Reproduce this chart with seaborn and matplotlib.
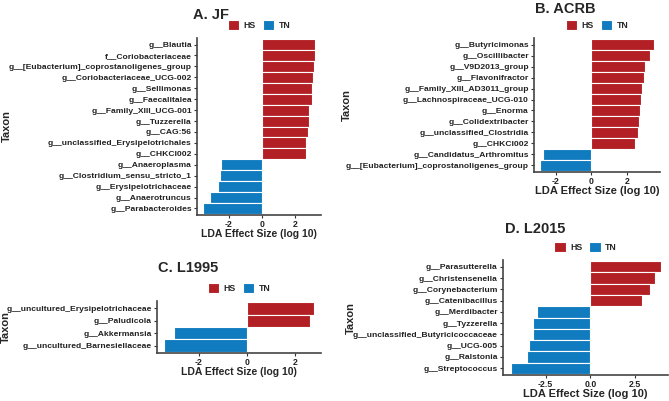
import matplotlib
matplotlib.use("Agg")
import matplotlib.pyplot as plt
import pandas as pd
import seaborn as sns

# LDA effect sizes (log 10)
jf_taxa = ["g__Blautia", "f__Coriobacteriaceae", "g__[Eubacterium]_coprostanoligenes_group",
           "g__Coriobacteriaceae_UCG-002", "g__Sellimonas", "g__Faecalitalea",
           "g__Family_XIII_UCG-001", "g__Tuzzerella", "g__CAG:56",
           "g__unclassified_Erysipelotrichales", "g__CHKCI002", "g__Anaeroplasma",
           "g__Clostridium_sensu_stricto_1", "g__Erysipelotrichaceae", "g__Anaerotruncus",
           "g__Parabacteroides"]
jf_lda = [3.25, 3.20, 3.16, 3.08, 3.07, 3.02, 2.88, 2.84, 2.78, 2.71, 2.67,
          -2.45, -2.53, -2.65, -3.14, -3.57]

acrb_taxa = ["g__Butyricimonas", "g__Oscillibacter", "g__V9D2013_group", "g__Flavonifractor",
             "g__Family_XIII_AD3011_group", "g__Lachnospiraceae_UCG-010", "g__Enorma",
             "g__Colidextribacter", "g__unclassified_Clostridia", "g__CHKCI002",
             "g__Candidatus_Arthromitus", "g__[Eubacterium]_coprostanoligenes_group"]
acrb_lda = [3.55, 3.30, 3.04, 2.96, 2.87, 2.78, 2.76, 2.67, 2.63, 2.48, -2.70, -2.89]

l1995_taxa = ["g__uncultured_Erysipelotrichaceae", "g__Paludicola", "g__Akkermansia",
              "g__uncultured_Barnesiellaceae"]
l1995_lda = [2.78, 2.63, -3.03, -3.42]

l2015_taxa = ["g__Parasutterella", "g__Christensenella", "g__Corynebacterium",
              "g__Catenibacillus", "g__Merdibacter", "g__Tyzzerella",
              "g__unclassified_Butyricicoccaceae", "g__UCG-005", "g__Ralstonia",
              "g__Streptococcus"]
l2015_lda = [3.91, 3.63, 3.35, 2.90, -2.96, -3.18, -3.20, -3.43, -3.54, -4.46]

groups = ["HS", "TN"]
colors = {"HS": "#B22025", "TN": "#107BBF"}

sns.set_style("ticks")
plt.rcParams['font.family'] = ['Liberation Sans', 'DejaVu Sans']
plt.rcParams['font.weight'] = 'bold'
plt.rcParams['axes.unicode_minus'] = False

W, H = 669, 401
fig = plt.figure(figsize=(W / 100, H / 100), dpi=100)


def draw_panel(title, taxa, lda, box, ticks, ticklabels, title_xy, taxon_x, xlab_size):
    left, top, right, bottom = box
    ax = fig.add_axes([left / W, 1 - bottom / H, (right - left) / W, (bottom - top) / H])
    df = pd.DataFrame({"Taxon": taxa, "LDA": lda})
    df["Group"] = ["HS" if v > 0 else "TN" for v in df["LDA"]]
    sns.barplot(data=df, x="LDA", y="Taxon", hue="Group", hue_order=groups,
                palette=colors, saturation=1, dodge=False, width=1.0, edgecolor="white",
                linewidth=0.8, order=taxa, ax=ax)
    lo, hi = min(lda), max(lda)
    pad = (hi - lo) * 0.05
    ax.set_xlim(lo - pad, hi + pad)
    ax.set_ylim(len(taxa) - 0.4, -0.6)
    ax.set_xticks(ticks)
    ax.set_xticklabels(ticklabels, fontsize=6.3, fontweight="bold", color="#222222")
    ax.tick_params(axis="y", labelsize=6.1, length=2.2, width=0.8, pad=1.5,
                   colors="#333333", labelcolor="#222222")
    ax.tick_params(axis="x", length=2.2, width=0.8, pad=1.2, colors="#333333",
                   labelcolor="#222222")
    for lab in ax.get_yticklabels():
        lab.set_fontweight("bold")
    for s in ["top", "right"]:
        ax.spines[s].set_visible(False)
    for s in ["left", "bottom"]:
        ax.spines[s].set_color("#444444")
        ax.spines[s].set_linewidth(1.2)
    ax.set_ylabel("")
    ax.set_xlabel("LDA Effect Size (log 10)", fontsize=xlab_size, fontweight="bold",
                  labelpad=0.5)
    leg = ax.legend(loc="lower center", bbox_to_anchor=(0.5, 1.0), ncol=2, frameon=False,
                    fontsize=6.3, handlelength=1.3, handleheight=1.3, columnspacing=0.8,
                    handletextpad=0.5, borderaxespad=0.5)
    for t in leg.get_texts():
        t.set_fontweight("bold")
    fig.text(title_xy[0] / W, 1 - title_xy[1] / H, title, fontsize=10.5,
             fontweight="bold", ha="left", va="center")
    fig.text(taxon_x / W, 1 - (top + bottom) / 2 / H, "Taxon", fontsize=8,
             fontweight="bold", rotation=90, ha="center", va="center")
    return ax


draw_panel("A. JF", jf_taxa, jf_lda, (197, 38, 321, 215),
           [-2, 0, 2], ["-2", "0", "2"], (193, 15), 7, 7.5)
draw_panel("B. ACRB", acrb_taxa, acrb_lda, (534, 38, 660, 172),
           [-2, 0, 2], ["-2", "0", "2"], (535, 9), 347, 8)
draw_panel("C. L1995", l1995_taxa, l1995_lda, (157, 301, 321, 353),
           [-2, 0, 2], ["-2", "0", "2"], (158, 268), 6, 7.5)
draw_panel("D. L2015", l2015_taxa, l2015_lda, (503, 260, 668, 375),
           [-2.5, 0, 2.5], ["-2.5", "0.0", "2.5"], (505, 229), 351, 8)

fig.savefig("out.png", dpi=100)
